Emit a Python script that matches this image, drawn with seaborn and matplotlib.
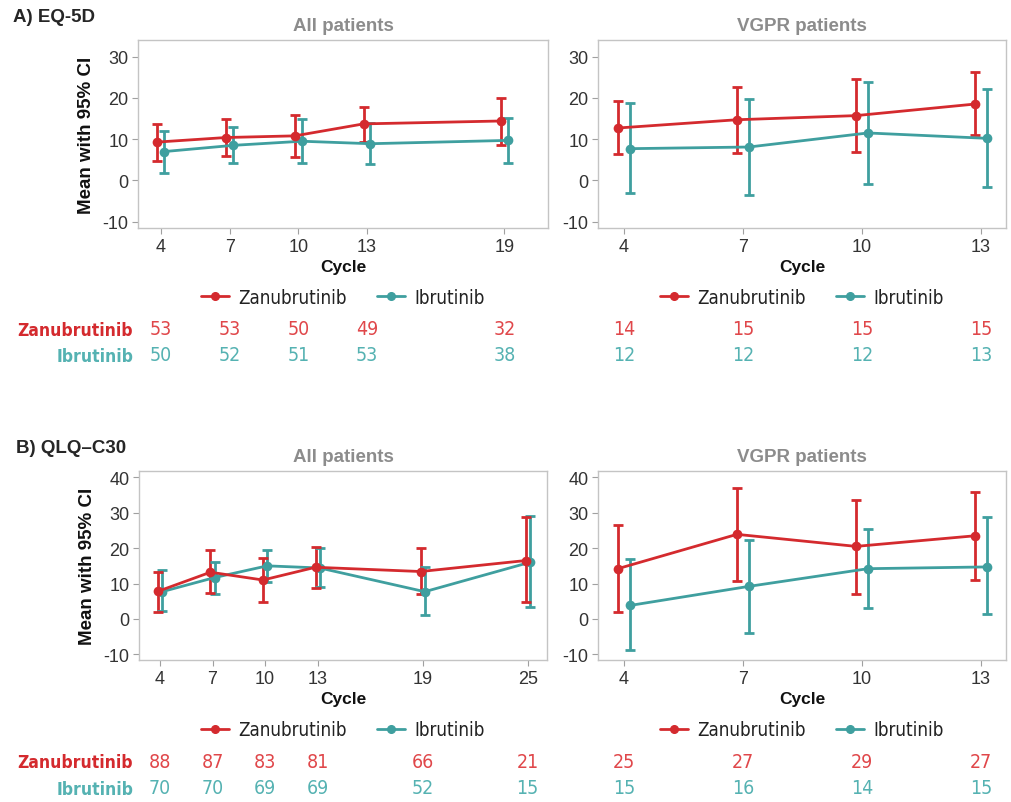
import numpy as np
import pandas as pd
import matplotlib
matplotlib.use("Agg")
import matplotlib.pyplot as plt
from matplotlib import font_manager
from matplotlib.lines import Line2D
from matplotlib.transforms import blended_transform_factory
import seaborn as sns

# ---------------- data ----------------
arms = ["Zanubrutinib", "Ibrutinib"]

# A) EQ-5D, all patients
eq_all_cycles = [4, 7, 10, 13, 19]
eq_all_zanu_mean = [9.3, 10.4, 10.8, 13.7, 14.4]
eq_all_zanu_lo = [4.7, 6.0, 5.6, 9.3, 8.6]
eq_all_zanu_hi = [13.7, 14.8, 15.9, 17.7, 20.0]
eq_all_ibru_mean = [7.0, 8.5, 9.5, 8.9, 9.7]
eq_all_ibru_lo = [1.9, 4.2, 4.2, 4.1, 4.2]
eq_all_ibru_hi = [11.9, 13.0, 14.9, 13.8, 15.1]
eq_all_zanu_n = [53, 53, 50, 49, 32]
eq_all_ibru_n = [50, 52, 51, 53, 38]

# A) EQ-5D, VGPR patients
eq_vgpr_cycles = [4, 7, 10, 13]
eq_vgpr_zanu_mean = [12.7, 14.7, 15.7, 18.5]
eq_vgpr_zanu_lo = [6.3, 6.7, 6.9, 10.9]
eq_vgpr_zanu_hi = [19.2, 22.7, 24.6, 26.2]
eq_vgpr_ibru_mean = [7.7, 8.1, 11.5, 10.2]
eq_vgpr_ibru_lo = [-3.1, -3.4, -0.8, -1.6]
eq_vgpr_ibru_hi = [18.7, 19.6, 23.8, 22.2]
eq_vgpr_zanu_n = [14, 15, 15, 15]
eq_vgpr_ibru_n = [12, 12, 12, 13]

# B) QLQ-C30, all patients
qlq_all_cycles = [4, 7, 10, 13, 19, 25]
qlq_all_zanu_mean = [7.8, 13.2, 11.0, 14.6, 13.4, 16.5]
qlq_all_zanu_lo = [2.1, 7.3, 4.7, 8.7, 7.0, 4.7]
qlq_all_zanu_hi = [13.2, 19.4, 17.2, 20.4, 20.0, 28.9]
qlq_all_ibru_mean = [7.7, 11.7, 15.0, 14.4, 7.7, 16.0]
qlq_all_ibru_lo = [2.2, 7.0, 10.3, 8.9, 1.1, 3.3]
qlq_all_ibru_hi = [13.8, 16.2, 19.6, 20.1, 14.6, 29.1]
qlq_all_zanu_n = [88, 87, 83, 81, 66, 21]
qlq_all_ibru_n = [70, 70, 69, 69, 52, 15]

# B) QLQ-C30, VGPR patients
qlq_vgpr_cycles = [4, 7, 10, 13]
qlq_vgpr_zanu_mean = [14.2, 23.9, 20.5, 23.5]
qlq_vgpr_zanu_lo = [2.1, 10.7, 7.1, 11.0]
qlq_vgpr_zanu_hi = [26.6, 36.9, 33.6, 35.8]
qlq_vgpr_ibru_mean = [3.8, 9.2, 14.2, 14.7]
qlq_vgpr_ibru_lo = [-8.8, -4.1, 3.2, 1.4]
qlq_vgpr_ibru_hi = [16.9, 22.2, 25.4, 28.8]
qlq_vgpr_zanu_n = [25, 27, 29, 27]
qlq_vgpr_ibru_n = [15, 16, 14, 15]

# ---------------- style ----------------
sns.set_style("white")
avail = {f.name for f in font_manager.fontManager.ttflist}
base_font = "Liberation Sans" if "Liberation Sans" in avail else "DejaVu Sans"
if "Liberation Sans Narrow" in avail:
    narrow_kw = dict(family="Liberation Sans Narrow")
else:
    narrow_kw = dict(family="DejaVu Sans", stretch="condensed")
plt.rcParams["font.family"] = [base_font, "DejaVu Sans"]

RED = "#d42a2e"
TEAL = "#3f9f9f"
RED_TXT = "#e0474a"
TEAL_TXT = "#55b2b2"
palette = {"Zanubrutinib": RED, "Ibrutinib": TEAL}

W, H = 1011, 803
fig = plt.figure(figsize=(W / 100, H / 100), dpi=100)


def px_axes(left, top, right, bottom):
    return fig.add_axes([left / W, 1 - bottom / H, (right - left) / W, (bottom - top) / H])


def panel(ax, cycles, zm, zlo, zhi, im, ilo, ihi, zn, inn, ylim, yticks, xlim, offset,
          title, show_ylabel):
    rows = []
    for arm, m, lo, hi, off in [("Zanubrutinib", zm, zlo, zhi, -offset),
                                ("Ibrutinib", im, ilo, ihi, offset)]:
        for c, mv, l, h in zip(cycles, m, lo, hi):
            rows.append(dict(arm=arm, cycle=c, xpos=c + off, mean=mv, lo=l, hi=h))
    df = pd.DataFrame(rows)
    for arm in ["Ibrutinib", "Zanubrutinib"]:
        d = df[df.arm == arm]
        ax.errorbar(d.xpos, d["mean"], yerr=[d["mean"] - d.lo, d.hi - d["mean"]],
                    fmt="none", ecolor=palette[arm], elinewidth=2.0, capsize=3.5,
                    capthick=2.0, zorder=2 if arm == "Ibrutinib" else 4)
    sns.lineplot(data=df, x="xpos", y="mean", hue="arm", hue_order=["Ibrutinib", "Zanubrutinib"],
                 palette=palette, marker="o", markersize=7, markeredgewidth=0,
                 linewidth=2.0, ax=ax, legend=False, sort=True, errorbar=None)
    for ln in ax.lines:
        ln.set_zorder(5)
    ax.set_xlim(*xlim)
    ax.set_ylim(*ylim)
    ax.set_xticks(cycles)
    ax.set_xticklabels([str(c) for c in cycles])
    ax.set_yticks(yticks)
    ax.set_yticklabels([str(t) for t in yticks])
    ax.tick_params(axis="both", bottom=True, left=True, labelsize=13, colors="#a0a0a0",
                   labelcolor="#333333", length=4, width=0.8, direction="out", pad=3)
    for s in ax.spines.values():
        s.set_color("#c4c4c4")
        s.set_linewidth(1.0)
    ax.set_xlabel("Cycle", fontsize=12.5, fontweight="bold", color="#111111", labelpad=3)
    if show_ylabel:
        ax.set_ylabel("Mean with 95% CI", fontsize=13.5, fontweight="bold", color="#111111",
                      labelpad=5)
    else:
        ax.set_ylabel("")
    ax.set_title(title, fontsize=13.5, fontweight="bold", color="#8c8c8c", pad=7)

    handles = [Line2D([0], [0], color=RED, marker="o", markersize=5.5, lw=2),
               Line2D([0], [0], color=TEAL, marker="o", markersize=5.5, lw=2)]
    leg = ax.legend(handles, arms, loc="center", bbox_to_anchor=(0.5, -0.37), ncol=2,
                    frameon=False, handlelength=1.5, columnspacing=1.6, handletextpad=0.5,
                    prop=font_manager.FontProperties(size=13.5, **narrow_kw))
    for t in leg.get_texts():
        t.set_color("#222222")

    tr = blended_transform_factory(ax.transData, ax.transAxes)
    for c, n in zip(cycles, zn):
        ax.text(c, -0.535, str(n), transform=tr, ha="center", va="center", color=RED_TXT,
                fontsize=14, clip_on=False, **narrow_kw)
    for c, n in zip(cycles, inn):
        ax.text(c, -0.675, str(n), transform=tr, ha="center", va="center", color=TEAL_TXT,
                fontsize=14, clip_on=False, **narrow_kw)


axA1 = px_axes(138, 41, 548, 229)
axA2 = px_axes(598, 41, 1006, 229)
axB1 = px_axes(139, 472, 547, 661)
axB2 = px_axes(598, 472, 1006, 661)

panel(axA1, eq_all_cycles, eq_all_zanu_mean, eq_all_zanu_lo, eq_all_zanu_hi,
      eq_all_ibru_mean, eq_all_ibru_lo, eq_all_ibru_hi, eq_all_zanu_n, eq_all_ibru_n,
      (-11.5, 34), [-10, 0, 10, 20, 30], (3.0, 20.9), 0.15, "All patients", True)
panel(axA2, eq_vgpr_cycles, eq_vgpr_zanu_mean, eq_vgpr_zanu_lo, eq_vgpr_zanu_hi,
      eq_vgpr_ibru_mean, eq_vgpr_ibru_lo, eq_vgpr_ibru_hi, eq_vgpr_zanu_n, eq_vgpr_ibru_n,
      (-11.5, 34), [-10, 0, 10, 20, 30], (3.35, 13.63), 0.15, "VGPR patients", False)
panel(axB1, qlq_all_cycles, qlq_all_zanu_mean, qlq_all_zanu_lo, qlq_all_zanu_hi,
      qlq_all_ibru_mean, qlq_all_ibru_lo, qlq_all_ibru_hi, qlq_all_zanu_n, qlq_all_ibru_n,
      (-11.6, 41.8), [-10, 0, 10, 20, 30, 40], (2.8, 26.1), 0.12, "All patients", True)
panel(axB2, qlq_vgpr_cycles, qlq_vgpr_zanu_mean, qlq_vgpr_zanu_lo, qlq_vgpr_zanu_hi,
      qlq_vgpr_ibru_mean, qlq_vgpr_ibru_lo, qlq_vgpr_ibru_hi, qlq_vgpr_zanu_n, qlq_vgpr_ibru_n,
      (-11.6, 41.8), [-10, 0, 10, 20, 30, 40], (3.35, 13.63), 0.15, "VGPR patients", False)

fig.text(13 / W, 1 - 18 / H, "A) EQ-5D", fontsize=13.5, fontweight="bold", va="center", ha="left")
fig.text(16 / W, 1 - 449 / H, "B) QLQ–C30", fontsize=13.5, fontweight="bold", va="center", ha="left")

for ytop, ybot in [(331, 357), (763, 790)]:
    fig.text(133 / W, 1 - ytop / H, "Zanubrutinib", color=RED, fontweight="bold",
             fontsize=12.5, ha="right", va="center", **narrow_kw)
    fig.text(133 / W, 1 - ybot / H, "Ibrutinib", color=TEAL_TXT, fontweight="bold",
             fontsize=12.5, ha="right", va="center", **narrow_kw)

fig.savefig("out.png", dpi=100, facecolor="white")
